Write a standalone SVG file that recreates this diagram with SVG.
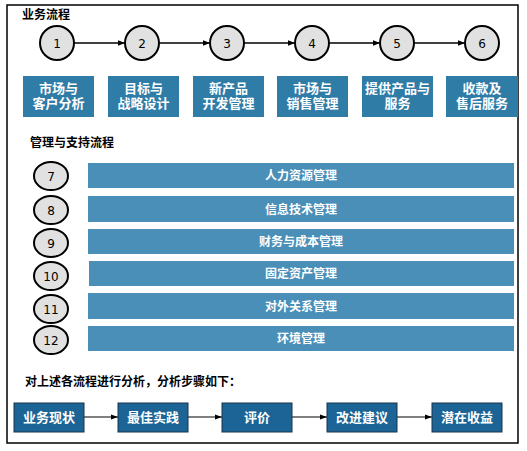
<svg xmlns="http://www.w3.org/2000/svg" width="527" height="451" viewBox="0 0 527 451">
<style>
.t{font-family:"Liberation Sans","Noto Sans CJK SC",sans-serif;}
.h{font-size:12px;font-weight:bold;fill:#000;}
.c{fill:#e1e1e1;stroke:#000;stroke-width:2;}
.n{font-family:"DejaVu Sans","Liberation Sans",sans-serif;font-size:12px;fill:#000;text-anchor:middle;}
.tb{fill:#2f7ca7;}
.tt{font-size:13px;font-weight:bold;fill:#fff;text-anchor:middle;}
.bar{fill:#4a8fb7;}
.bt{font-size:12px;font-weight:bold;fill:#fff;text-anchor:middle;}
.bb{fill:#1b6495;stroke:#18344d;stroke-width:1;}
.bbt{font-size:13px;font-weight:bold;fill:#fff;text-anchor:middle;}
.ln{stroke:#000;stroke-width:1.5;fill:none;}
.ln2{stroke:#000;stroke-width:1;fill:none;}
</style>
<defs>
<marker id="ah" viewBox="0 0 10 10" refX="10" refY="5" markerWidth="5" markerHeight="5" orient="auto" markerUnits="strokeWidth"><path d="M0,1 L10,5 L0,9 z" fill="#000"/></marker>
<marker id="ah2" viewBox="0 0 10 10" refX="10" refY="5" markerWidth="7" markerHeight="7" orient="auto" markerUnits="strokeWidth"><path d="M0,1.5 L10,5 L0,8.5 z" fill="#000"/></marker>
</defs>
<rect x="0" y="0" width="527" height="451" fill="#fff"/>
<rect x="7" y="5" width="511" height="438" fill="none" stroke="#000" stroke-width="1.5"/>
<text class="t h" x="22" y="19">业务流程</text>
<text class="t h" x="30" y="147">管理与支持流程</text>
<text class="t h" x="25" y="386">对上述各流程进行分析，分析步骤如下：</text>

<g id="connectors">
<line class="ln" x1="74" y1="43" x2="125" y2="43" marker-end="url(#ah)"/>
<line class="ln" x1="159" y1="43" x2="210" y2="43" marker-end="url(#ah)"/>
<line class="ln" x1="244" y1="43" x2="295" y2="43" marker-end="url(#ah)"/>
<line class="ln" x1="329" y1="43" x2="380" y2="43" marker-end="url(#ah)"/>
<line class="ln" x1="414" y1="43" x2="465" y2="43" marker-end="url(#ah)"/>
<line class="ln2" x1="84" y1="417" x2="118" y2="417" marker-end="url(#ah2)"/>
<line class="ln2" x1="188" y1="417" x2="222" y2="417" marker-end="url(#ah2)"/>
<line class="ln2" x1="292" y1="417" x2="327" y2="417" marker-end="url(#ah2)"/>
<line class="ln2" x1="397" y1="417" x2="432" y2="417" marker-end="url(#ah2)"/>
</g>

<g id="c1"><circle class="c" cx="57" cy="43" r="17"/><text class="n" x="57" y="47.5">1</text></g>
<g id="c2"><circle class="c" cx="142" cy="43" r="17"/><text class="n" x="142" y="47.5">2</text></g>
<g id="c3"><circle class="c" cx="227" cy="43" r="17"/><text class="n" x="227" y="47.5">3</text></g>
<g id="c4"><circle class="c" cx="312" cy="43" r="17"/><text class="n" x="312" y="47.5">4</text></g>
<g id="c5"><circle class="c" cx="397" cy="43" r="17"/><text class="n" x="397" y="47.5">5</text></g>
<g id="c6"><circle class="c" cx="482" cy="43" r="17"/><text class="n" x="482" y="47.5">6</text></g>

<g id="b1"><rect class="tb" x="23" y="76" width="71" height="41"/><text class="t tt" x="58.5" y="93">市场与</text><text class="t tt" x="58.5" y="108">客户分析</text></g>
<g id="b2"><rect class="tb" x="108" y="76" width="71" height="41"/><text class="t tt" x="143.5" y="93">目标与</text><text class="t tt" x="143.5" y="108">战略设计</text></g>
<g id="b3"><rect class="tb" x="193" y="76" width="71" height="41"/><text class="t tt" x="228.5" y="93">新产品</text><text class="t tt" x="228.5" y="108">开发管理</text></g>
<g id="b4"><rect class="tb" x="277" y="76" width="71" height="41"/><text class="t tt" x="312.5" y="93">市场与</text><text class="t tt" x="312.5" y="108">销售管理</text></g>
<g id="b5"><rect class="tb" x="362" y="76" width="71" height="41"/><text class="t tt" x="397.5" y="93">提供产品与</text><text class="t tt" x="397.5" y="108">服务</text></g>
<g id="b6"><rect class="tb" x="446" y="76" width="72" height="41"/><text class="t tt" x="482" y="93">收款及</text><text class="t tt" x="482" y="108">售后服务</text></g>

<g id="m7"><ellipse class="c" cx="51" cy="176" rx="17" ry="14"/><text class="n" x="51" y="180.5">7</text><rect class="bar" x="88" y="163" width="426" height="25"/><text class="t bt" x="301" y="180">人力资源管理</text></g>
<g id="m8"><ellipse class="c" cx="51" cy="210" rx="17" ry="14"/><text class="n" x="51" y="214.5">8</text><rect class="bar" x="88" y="196" width="426" height="26"/><text class="t bt" x="301" y="213.5">信息技术管理</text></g>
<g id="m9"><ellipse class="c" cx="51" cy="243" rx="17" ry="14"/><text class="n" x="51" y="247.5">9</text><rect class="bar" x="88" y="229" width="426" height="25"/><text class="t bt" x="301" y="246">财务与成本管理</text></g>
<g id="m10"><ellipse class="c" cx="51" cy="276" rx="17" ry="14"/><text class="n" x="51" y="280.5">10</text><rect class="bar" x="89" y="261" width="425" height="25"/><text class="t bt" x="301" y="278">固定资产管理</text></g>
<g id="m11"><ellipse class="c" cx="51" cy="309" rx="17" ry="14"/><text class="n" x="51" y="313.5">11</text><rect class="bar" x="88" y="293" width="426" height="26"/><text class="t bt" x="301" y="310.5">对外关系管理</text></g>
<g id="m12"><ellipse class="c" cx="51" cy="340" rx="17" ry="14"/><text class="n" x="51" y="344.5">12</text><rect class="bar" x="88" y="326" width="426" height="25"/><text class="t bt" x="301" y="343">环境管理</text></g>

<g id="s1"><rect class="bb" x="14" y="403" width="70" height="29"/><text class="t bbt" x="49" y="422">业务现状</text></g>
<g id="s2"><rect class="bb" x="118" y="403" width="70" height="29"/><text class="t bbt" x="153" y="422">最佳实践</text></g>
<g id="s3"><rect class="bb" x="222" y="403" width="70" height="29"/><text class="t bbt" x="257" y="422">评价</text></g>
<g id="s4"><rect class="bb" x="327" y="403" width="70" height="29"/><text class="t bbt" x="362" y="422">改进建议</text></g>
<g id="s5"><rect class="bb" x="432" y="403" width="70" height="29"/><text class="t bbt" x="467" y="422">潜在收益</text></g>
</svg>
